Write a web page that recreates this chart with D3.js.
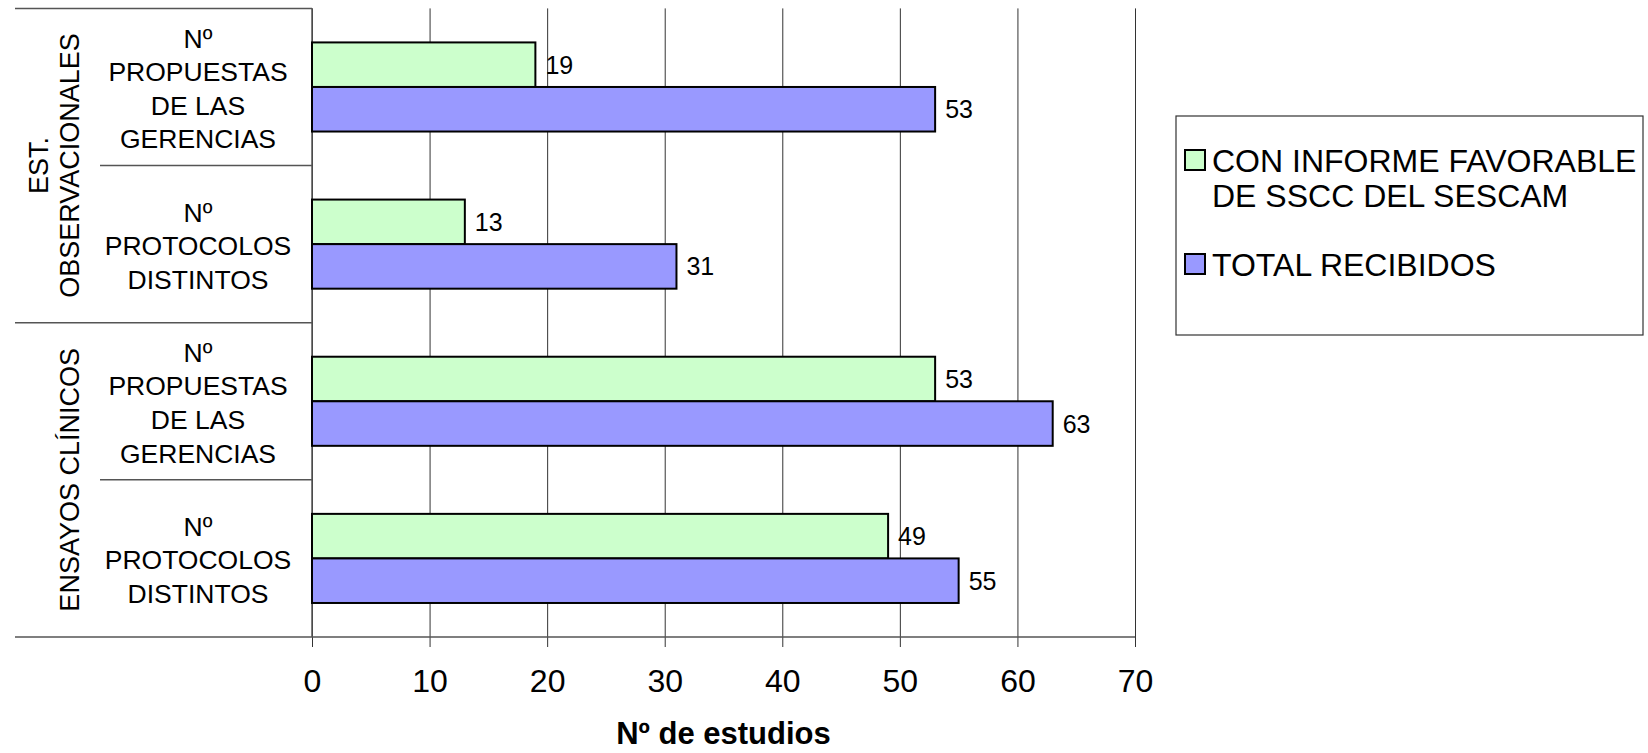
<!DOCTYPE html>
<html>
<head>
<meta charset="utf-8">
<script src="https://cdn.jsdelivr.net/npm/d3@7"></script>
<style>
  html, body { margin: 0; padding: 0; background: #fff; }
  svg { display: block; font-family: 'Liberation Sans', Arial, sans-serif; }
</style>
</head>
<body>
<div id="chart"></div>
<script>
// data
const groups = ['EST. OBSERVACIONALES', 'ENSAYOS CLÍNICOS'];
const groupLines = [['EST.', 'OBSERVACIONALES'], ['ENSAYOS CLÍNICOS']];
const categories = ['obs-prop', 'obs-prot', 'ec-prop', 'ec-prot'];
const categoryGroup = [0, 0, 1, 1];
const categoryLines = [
  ['Nº', 'PROPUESTAS', 'DE LAS', 'GERENCIAS'],
  ['Nº', 'PROTOCOLOS', 'DISTINTOS'],
  ['Nº', 'PROPUESTAS', 'DE LAS', 'GERENCIAS'],
  ['Nº', 'PROTOCOLOS', 'DISTINTOS'],
];
const seriesNames = ['CON INFORME FAVORABLE DE SSCC DEL SESCAM', 'TOTAL RECIBIDOS'];
const seriesLegendLines = [['CON INFORME FAVORABLE', 'DE SSCC DEL SESCAM'], ['TOTAL RECIBIDOS']];
const favorable = [19, 13, 53, 49];
const total = [53, 31, 63, 55];
const xTicks = [0, 10, 20, 30, 40, 50, 60, 70];

const config = {
  width: 1648,
  height: 753,
  plot: { left: 312, right: 1135, top: 8.4, bottom: 637 },
  colors: ['#CCFFCC', '#9999FF'],
  catAxisLeft: 15,
  subAxisLeft: 100,
};

const svg = d3.select('#chart').append('svg')
  .attr('width', config.width)
  .attr('height', config.height);

const x = d3.scaleLinear().domain([0, 70]).range([config.plot.left, config.plot.right]);
const y = d3.scaleBand().domain(categories)
  .range([config.plot.top, config.plot.bottom])
  .paddingInner(0.433).paddingOuter(0.2165);
const ySub = d3.scaleBand().domain([0, 1]).range([0, y.bandwidth()]);

// gridlines
svg.append('g')
  .attr('transform', `translate(0,${config.plot.bottom})`)
  .call(d3.axisBottom(x).tickValues(xTicks).tickSize(-(config.plot.bottom - config.plot.top)).tickFormat(''))
  .call((g) => g.select('.domain').remove())
  .call((g) => g.selectAll('line').attr('stroke', '#333').attr('stroke-width', 1));

// x axis
const step = y.step();
svg.append('g')
  .attr('transform', `translate(0,${config.plot.bottom})`)
  .call(d3.axisBottom(x).tickValues(xTicks).tickSize(10).tickPadding(22))
  .call((g) => g.select('.domain').remove())
  .call((g) => g.selectAll('line').attr('stroke', '#333'))
  .call((g) => g.selectAll('text')
    .attr('font-size', 32).attr('font-family', "'Liberation Sans', Arial, sans-serif").attr('fill', '#000'));

svg.append('line')
  .attr('x1', config.catAxisLeft).attr('x2', config.plot.right)
  .attr('y1', config.plot.bottom).attr('y2', config.plot.bottom)
  .attr('stroke', '#555').attr('stroke-width', 1.5);

svg.append('text')
  .attr('x', (config.plot.left + config.plot.right) / 2)
  .attr('y', 744)
  .attr('text-anchor', 'middle')
  .attr('font-size', 31)
  .attr('font-weight', 'bold')
  .text('Nº de estudios');

// category axis lines
svg.append('line')
  .attr('x1', config.plot.left).attr('x2', config.plot.left)
  .attr('y1', config.plot.top).attr('y2', config.plot.bottom)
  .attr('stroke', '#555').attr('stroke-width', 1.5);

categories.forEach((c, i) => {
  const top = config.plot.top + i * step;
  const isGroupStart = i === 0 || categoryGroup[i] !== categoryGroup[i - 1];
  svg.append('line')
    .attr('x1', isGroupStart ? config.catAxisLeft : config.subAxisLeft)
    .attr('x2', config.plot.left)
    .attr('y1', top).attr('y2', top)
    .attr('stroke', '#555').attr('stroke-width', 1.5);

  // category label
  const lines = categoryLines[i];
  const lh = 33.6;
  const cy = top + step / 2;
  const t = svg.append('text')
    .attr('text-anchor', 'middle')
    .attr('font-size', 26.5);
  lines.forEach((ln, k) => {
    t.append('tspan')
      .attr('x', 198)
      .attr('y', cy + (k - (lines.length - 1) / 2) * lh + 11)
      .text(ln);
  });
});

// group labels (rotated); the last line always sits at the same x
groups.forEach((gname, gi) => {
  const idx = categoryGroup.map((g, i) => (g === gi ? i : -1)).filter((i) => i >= 0);
  const cy = config.plot.top + (idx[0] + idx.length / 2) * step;
  const lines = groupLines[gi];
  const t = svg.append('text')
    .attr('transform', `translate(69,${cy}) rotate(-90)`)
    .attr('text-anchor', 'middle')
    .attr('font-size', 27);
  lines.forEach((ln, k) => {
    t.append('tspan')
      .attr('x', 0)
      .attr('y', (k - (lines.length - 1)) * 31 + 10)
      .text(ln);
  });
});

// bars
const seriesValues = [favorable, total];
seriesValues.forEach((vals, s) => {
  svg.append('g').selectAll('rect')
    .data(vals)
    .join('rect')
    .attr('x', x(0))
    .attr('y', (d, i) => y(categories[i]) + ySub(s))
    .attr('width', (d) => x(d) - x(0))
    .attr('height', ySub.bandwidth())
    .attr('fill', config.colors[s])
    .attr('stroke', '#000')
    .attr('stroke-width', 2);

  svg.append('g').selectAll('text')
    .data(vals)
    .join('text')
    .attr('x', (d) => x(d) + 10)
    .attr('y', (d, i) => y(categories[i]) + ySub(s) + ySub.bandwidth() / 2 + 9)
    .attr('font-size', 25)
    .text((d) => d);
});

// legend
const legend = svg.append('g');
legend.append('rect')
  .attr('x', 1176).attr('y', 116)
  .attr('width', 467).attr('height', 219)
  .attr('fill', '#fff').attr('stroke', '#333').attr('stroke-width', 1.2);

const legendRows = [172, 276];
seriesNames.forEach((name, s) => {
  legend.append('rect')
    .attr('x', 1185).attr('y', legendRows[s] - 22)
    .attr('width', 20).attr('height', 20)
    .attr('fill', config.colors[s])
    .attr('stroke', '#000').attr('stroke-width', 2);
  const t = legend.append('text').attr('font-size', 32);
  seriesLegendLines[s].forEach((ln, k) => {
    t.append('tspan').attr('x', 1212).attr('y', legendRows[s] + k * 35).text(ln);
  });
});
</script>
</body>
</html>
